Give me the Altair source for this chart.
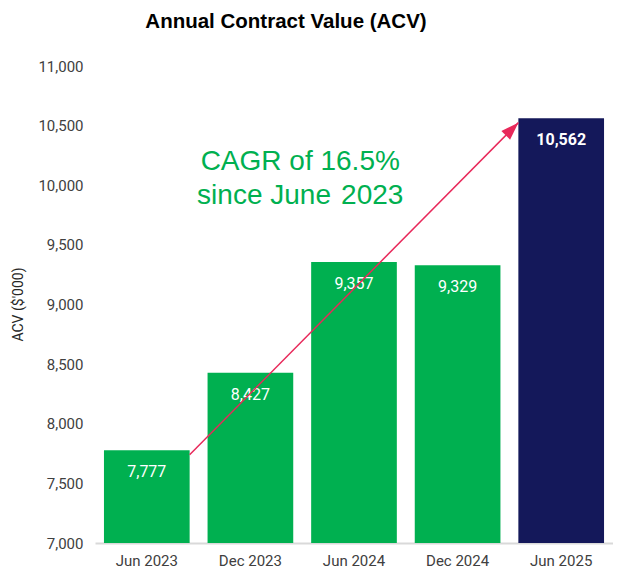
import altair as alt
import pandas as pd

periods = ["Jun 2023", "Dec 2023", "Jun 2024", "Dec 2024", "Jun 2025"]
acv = [7777, 8427, 9357, 9329, 10562]
labels = ["7,777", "8,427", "9,357", "9,329", "10,562"]
is_latest = [False, False, False, False, True]

arrow_from = ["Jun 2023"]
arrow_to = ["Jun 2025"]
arrow_y_from = [7740]
arrow_y_to = [10525]

note_period = ["Dec 2023"]
note_y = [10196]
note_text = [["CAGR of 16.5%", "since June\u200a 2023"]]

df = pd.DataFrame({"period": periods, "acv": acv, "label": labels, "latest": is_latest})
arrow_df = pd.DataFrame({"p1": arrow_from, "p2": arrow_to, "y1": arrow_y_from, "y2": arrow_y_to})
note_df = pd.DataFrame({"period": note_period, "y": note_y, "text": note_text})

xscale = alt.Scale(domain=periods, paddingInner=0.173, paddingOuter=0.0865)
yscale = alt.Scale(domain=[7000, 11000], nice=False, zero=False)

x = alt.X("period:N", scale=xscale, sort=periods,
          axis=alt.Axis(title=None, labelAngle=0, ticks=False, domainColor="#D9D9D9",
                        domainWidth=2, labelFont="Roboto", labelFontSize=15,
                        labelColor="#404040", labelPadding=10))
y = alt.Y("acv:Q", scale=yscale,
          axis=alt.Axis(title="ACV ($'000)", values=list(range(7000, 11001, 500)),
                        format=",.0f", grid=False, ticks=False, domain=False,
                        labelFont="Roboto", labelFontSize=15, labelColor="#404040",
                        labelPadding=12, titleFont="Roboto", titleFontSize=14,
                        titleFontWeight="normal", titleColor="#262626",
                        titleX=-77, titleY=238, titleAngle=-90, titleBaseline="middle",
                        titleAlign="center"))

bars = alt.Chart(df).mark_bar(clip=True).encode(
    x=x, y=y,
    color=alt.Color("latest:N", scale=alt.Scale(domain=[False, True], range=["#00B050", "#14185A"]), legend=None),
)

text_norm = alt.Chart(df).transform_filter("!datum.latest").mark_text(
    color="white", font="Roboto", fontSize=16, baseline="middle", dy=22
).encode(x=alt.X("period:N", scale=xscale, sort=periods), y=alt.Y("acv:Q", scale=yscale), text="label:N")

text_last = alt.Chart(df).transform_filter("datum.latest").mark_text(
    color="white", font="Roboto", fontSize=16, fontWeight="bold", baseline="middle", dy=22
).encode(x=alt.X("period:N", scale=xscale, sort=periods), y=alt.Y("acv:Q", scale=yscale), text="label:N")

arrow_line = alt.Chart(arrow_df).mark_rule(color="#E8285A", strokeWidth=1.5).encode(
    x=alt.X("p1:N", scale=xscale, bandPosition=1),
    x2=alt.X2("p2:N", bandPosition=0),
    y=alt.Y("y1:Q", scale=yscale),
    y2=alt.Y2("y2:Q"),
)

arrow_head = alt.Chart(arrow_df).mark_point(
    shape="M0,0L-0.55,1.6L0.55,1.6Z", filled=True, color="#E8285A", opacity=1,
    size=500, angle=45
).encode(
    x=alt.X("p2:N", scale=xscale, bandPosition=0),
    y=alt.Y("y2:Q", scale=yscale),
)

note = alt.Chart(note_df).mark_text(
    color="#00B050", font="Liberation Sans", fontSize=28, lineHeight=34,
    baseline="middle", align="center", dx=7
).encode(
    x=alt.X("period:N", scale=xscale, bandPosition=1),
    y=alt.Y("y:Q", scale=yscale),
    text="text",
)

chart = alt.layer(bars, text_norm, text_last, arrow_line, arrow_head, note).properties(
    width=518, height=477,
    title=alt.TitleParams("Annual Contract Value (ACV)", font="Liberation Sans", fontSize=20.5,
                          fontWeight="bold", color="#000000", anchor="middle", dx=-68, offset=27),
    autosize=alt.AutoSizeParams(type="none"),
    padding={"left": 87, "top": 58, "right": 0, "bottom": 30},
).configure_view(stroke=None)

chart.save("out.html", embed_options={"renderer": "svg", "actions": False})
